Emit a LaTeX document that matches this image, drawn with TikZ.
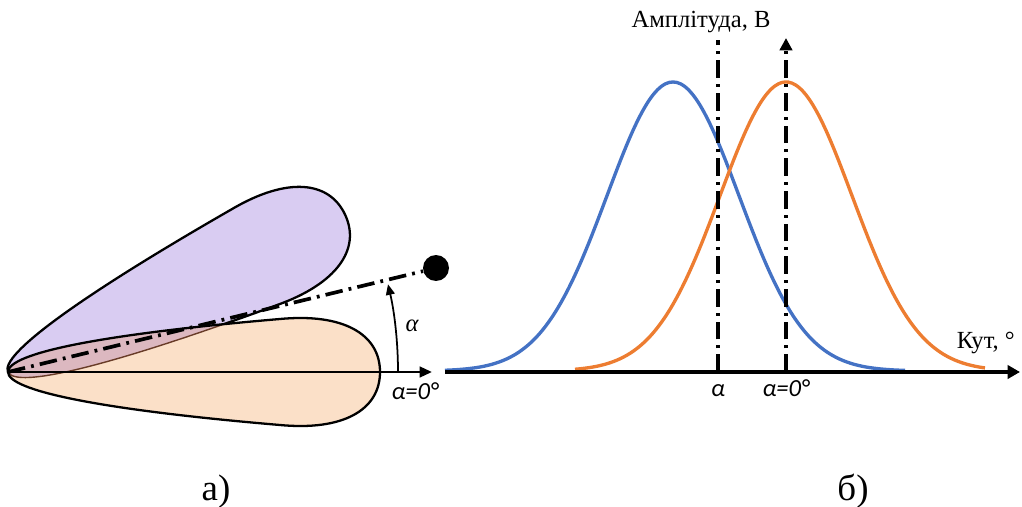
\documentclass[tikz,border=0pt]{standalone}
\usepackage{fontspec}
\setmainfont{Liberation Serif}
\newfontfamily\calfont{Carlito}
\usetikzlibrary{arrows.meta}
\definecolor{lobeviolet}{RGB}{217,204,242}
\definecolor{lobepeach}{RGB}{251,224,200}
\definecolor{lobemix}{RGB}{220,184,192}
\definecolor{mixedge}{RGB}{105,60,40}
\definecolor{curveblue}{RGB}{68,114,196}
\definecolor{curveorange}{RGB}{237,125,49}
\newcommand{\lobepath}{(0,0) .. controls (0,19) and (95,38) .. (272,53) .. controls (335,59) and (372,38) .. (372,0) .. controls (372,-38) and (335,-59) .. (272,-53) .. controls (95,-38) and (0,-19) .. (0,0) -- cycle}
\begin{document}
\begin{tikzpicture}[x=0.02cm,y=-0.02cm,>={Triangle[length=7pt,width=6pt]},
 lobe/.style={line width=1.3pt},
 ddot/.style={line width=2.1pt,dash pattern=on 10pt off 3.5pt on 1.6pt off 3.5pt},
 crv/.style={line width=1.9pt,smooth,samples=120},
 lbl/.style={font=\calfont\itshape\fontsize{14}{16}\selectfont,anchor=base},
 axtxt/.style={font=\fontsize{14}{16}\selectfont}]
\useasboundingbox (0,0) rectangle (1022,507);
\coordinate (O) at (8,372);
\fill[lobeviolet,shift={(O)},rotate=25] \lobepath;
\draw[lobe,shift={(O)},rotate=25] \lobepath;
\fill[lobepeach,shift={(O)}] \lobepath;
\begin{scope}
\clip[shift={(O)}] \lobepath;
\fill[lobemix,shift={(O)},rotate=25] \lobepath;
\draw[mixedge,line width=.8pt,shift={(O)},rotate=25] \lobepath;
\end{scope}
\draw[lobe,shift={(O)}] \lobepath;
\node[circle,fill,inner sep=0,minimum size=5.2mm] (tgt) at (436,268) {};
\draw[ddot] (O) -- (tgt);
\coordinate (xend) at (432,372);
\draw[->,line width=1.5pt] (O) -- (xend);
\coordinate (a0) at (398,372);
\draw[-{Triangle[length=6pt,width=5pt]},line width=1pt] (a0) arc[start angle=0,end angle=-13,radius=390];
\node[font=\itshape\fontsize{14}{16}\selectfont] (alab) at (412,326) {α};
\node[lbl] (zlab) at (415,399) {α=0°};
\node[font=\fontsize{21}{24}\selectfont,anchor=base] (capa) at (216,500) {а)};
\draw[crv,curveblue] plot[domain=445:905] (\x,{371-289*exp(-0.5*((\x-673)/66)^2)});
\draw[crv,curveorange] plot[domain=575:985] (\x,{371-289*exp(-0.5*((\x-786)/66)^2)});
\coordinate (R0) at (445,372);
\coordinate (R1) at (1020,372);
\draw[-{Triangle[length=7pt,width=7.5pt]},line width=2.3pt] (R0) -- (R1);
\coordinate (aT) at (718,40);
\coordinate (aB) at (718,372);
\draw[ddot] (aB) -- (aT);
\coordinate (zT) at (786,38);
\coordinate (zB) at (786,372);
\draw[ddot,-{Triangle[length=7pt,width=7pt]}] (zB) -- (zT);
\node[axtxt] (amp) at (701,22) {Амплітуда, В};
\node[axtxt,anchor=east] (kut) at (1021,343) {Кут, °};
\node[lbl] (alab2) at (718,396) {α};
\node[lbl] (zlab2) at (786,396) {α=0°};
\node[font=\fontsize{21}{24}\selectfont,anchor=base] (capb) at (853,500) {б)};
\end{tikzpicture}
\end{document}
